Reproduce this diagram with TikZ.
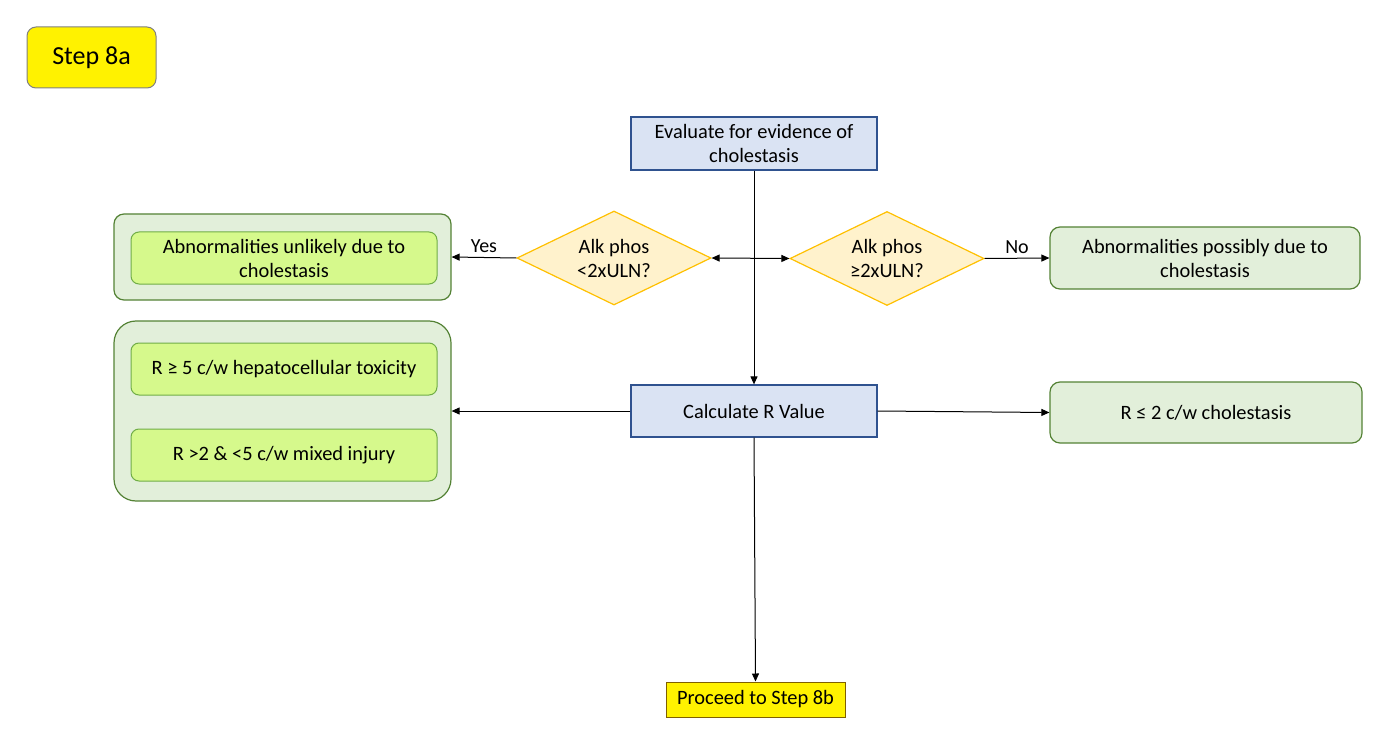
\documentclass[tikz,border=0pt]{standalone}
\usepackage{fontspec}
\setmainfont{Carlito}
\usetikzlibrary{shapes.geometric,arrows.meta}
\definecolor{bluefill}{HTML}{DAE3F3}
\definecolor{blueline}{HTML}{2F528F}
\definecolor{greenfill}{HTML}{E2EFDA}
\definecolor{greenline}{HTML}{548235}
\definecolor{limefill}{HTML}{D6F98C}
\definecolor{limeline}{HTML}{70AD47}
\definecolor{diafill}{HTML}{FFF2CC}
\definecolor{dialine}{HTML}{FFC000}
\definecolor{ylwline}{HTML}{7F6000}
\tikzset{
  txt/.style={font=\fontsize{20.4}{24}\selectfont, align=center},
  bluebox/.style={txt, draw=blueline, fill=bluefill, line width=1.2pt, inner sep=0pt},
  greenbox/.style={txt, draw=greenline, fill=greenfill, line width=1.2pt, rounded corners=10pt, inner sep=0pt},
  limebox/.style={txt, draw=limeline, fill=limefill, line width=1pt, rounded corners=8pt, inner sep=0pt, minimum width=306pt, minimum height=52pt},
  decision/.style={txt, diamond, aspect=2.06, draw=dialine, fill=diafill, line width=1.2pt, inner sep=0pt, minimum width=194pt, minimum height=94pt},
  arr/.style={-{Triangle[length=8pt,width=7pt]}, line width=1pt},
  lbl/.style={font=\fontsize{20}{22}\selectfont}
}
\begin{document}
\begin{tikzpicture}[x=1pt,y=-1pt]
\useasboundingbox (0,0) rectangle (1388,743);
\node[draw=gray, fill=yellow, line width=1pt, rounded corners=9pt, minimum width=129pt, minimum height=61pt, font=\fontsize{26}{30}\selectfont] (step) at (91.5,57.5) {Step 8a};
\node[bluebox, minimum width=246pt, minimum height=53pt] (eval) at (754,143.5) {Evaluate for evidence of\\cholestasis};
\node[decision] (dl) at (614,258) {Alk phos\\<2xULN?};
\node[decision] (dr) at (887,258.5) {Alk phos\\≥2xULN?};
\node[greenbox, minimum width=337pt, minimum height=86pt] (lo1) at (282.5,257) {};
\node[limebox] (li1) at (284,258) {Abnormalities unlikely due to\\cholestasis};
\node[greenbox, minimum width=310pt, minimum height=62pt] (r1) at (1205,258) {Abnormalities possibly due to\\cholestasis};
\node[bluebox, minimum width=246pt, minimum height=52pt] (calc) at (754,411) {Calculate R Value};
\node[greenbox, rounded corners=22pt, minimum width=337pt, minimum height=180pt] (lo2) at (282.5,411) {};
\node[limebox] (li2) at (284,369) {R ≥ 5 c/w hepatocellular toxicity};
\node[limebox] (li3) at (284,455) {R >2 \& <5 c/w mixed injury};
\node[greenbox, minimum width=312pt, minimum height=61pt] (r2) at (1206,412.5) {R ≤ 2 c/w cholestasis};
\node[txt, draw=ylwline, fill=yellow, line width=1pt, minimum width=179pt, minimum height=35pt, inner sep=0pt] (proc) at (755.5,699.5) {Proceed to Step 8b};
\draw[arr] (eval.south) -- (calc.north);
\draw[arr, {Triangle[length=8pt,width=7pt]}-{Triangle[length=8pt,width=7pt]}] (dl.east) -- (dr.west);
\draw[arr] (dl.west) -- node[lbl, above, pos=0.5, yshift=1pt] {Yes} (lo1.east);
\draw[arr] (dr.east) -- node[lbl, above, pos=0.5, yshift=1pt] {No} (r1.west);
\draw[arr] (calc.west) -- (lo2.east);
\draw[arr] (calc.east) -- (r2.west);
\draw[arr] (calc.south) -- (proc.north);
\end{tikzpicture}
\end{document}
